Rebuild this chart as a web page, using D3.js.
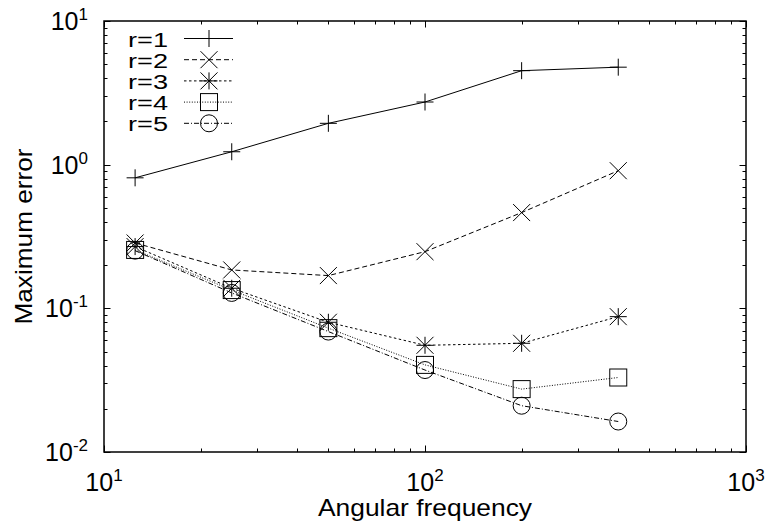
<!DOCTYPE html>
<html>
<head>
<meta charset="utf-8">
<script src="https://cdn.jsdelivr.net/npm/d3@7/dist/d3.min.js"></script>
<style>
  html, body { margin: 0; padding: 0; background: #fff; }
  svg { display: block; font-family: "Liberation Sans", Arial, Helvetica, sans-serif; }
</style>
</head>
<body>
<svg id="chart" width="767" height="524"></svg>
<script>
// ---- data ----
const freqs = [12.5, 25, 50, 100, 200, 400];
const r1 = [0.81, 1.23, 1.94, 2.73, 4.51, 4.77];
const r2 = [0.285, 0.185, 0.169, 0.248, 0.464, 0.908];
const r3 = [0.269, 0.138, 0.080, 0.0553, 0.0571, 0.0875];
const r4 = [0.255, 0.134, 0.0728, 0.0404, 0.0274, 0.033];
const r5 = [0.252, 0.128, 0.0689, 0.0372, 0.0210, 0.0163];
const seriesNames = ["r=1", "r=2", "r=3", "r=4", "r=5"];
const xTickExps = [1, 2, 3];
const yTickExps = [-2, -1, 0, 1];
const xTitle = "Angular frequency";
const yTitle = "Maximum error";

// ---- styles ----
const seriesValues = [r1, r2, r3, r4, r5];
const markers = ["plus", "cross", "star", "square", "circle"];
const dashes = [null, "5,3", "2.5,2.5", "1,1.6", "5,2,1,2"];

const svg = d3.select("#chart");
const L = 104, R = 746, T = 21, B = 452;
const x = d3.scaleLog().domain([10, 1000]).range([L, R]);
const y = d3.scaleLog().domain([0.01, 10]).range([B, T]);

// ticks (inward, mirrored)
const tickG = svg.append("g").attr("stroke", "#000").attr("stroke-width", 1);
const major = 6.5, minor = 3.5;
function decadeTicks(lo, hi) {
  const out = [];
  for (let e = lo; e < hi; e++) {
    for (let m = 1; m < 10; m++) out.push({v: m * Math.pow(10, e), major: m === 1});
  }
  out.push({v: Math.pow(10, hi), major: true});
  return out;
}
decadeTicks(1, 3).forEach(t => {
  const px = Math.round(x(t.v)) + 0.5, len = t.major ? major : minor;
  tickG.append("line").attr("x1", px).attr("x2", px).attr("y1", B).attr("y2", B - len);
  tickG.append("line").attr("x1", px).attr("x2", px).attr("y1", T).attr("y2", T + len);
});
decadeTicks(-2, 1).forEach(t => {
  const py = Math.round(y(t.v)) + 0.5, len = t.major ? major : minor;
  tickG.append("line").attr("y1", py).attr("y2", py).attr("x1", L).attr("x2", L + len);
  tickG.append("line").attr("y1", py).attr("y2", py).attr("x1", R).attr("x2", R - len);
});

// border
svg.append("rect").attr("x", L).attr("y", T).attr("width", R - L).attr("height", B - T)
  .attr("fill", "none").attr("stroke", "#000").attr("stroke-width", 1.5);

// tick labels
xTickExps.forEach(e => {
  const t = svg.append("text").attr("x", x(Math.pow(10, e))).attr("y", 491)
    .attr("text-anchor", "middle").attr("font-size", 25).attr("fill", "#000");
  t.append("tspan").text("10");
  t.append("tspan").attr("font-size", 17).attr("dy", -10).text(String(e));
});
yTickExps.forEach(e => {
  const t = svg.append("text").attr("x", 88).attr("y", y(Math.pow(10, e)) + 9)
    .attr("text-anchor", "end").attr("font-size", 25).attr("fill", "#000");
  t.append("tspan").text("10");
  t.append("tspan").attr("font-size", 17).attr("dy", -10).text(String(e));
});

// axis titles
svg.append("text").attr("x", (L + R) / 2).attr("y", 516).attr("text-anchor", "middle")
  .attr("font-size", 24).attr("textLength", 214).attr("lengthAdjust", "spacingAndGlyphs")
  .text(xTitle);
svg.append("text").attr("transform", `translate(32,${(T + B) / 2}) rotate(-90)`)
  .attr("text-anchor", "middle").attr("font-size", 24)
  .attr("textLength", 176).attr("lengthAdjust", "spacingAndGlyphs")
  .text(yTitle);

// marker drawing
function drawMarker(g, type, cx, cy) {
  const s = 8.5;
  const st = {stroke: "#000", "stroke-width": 1, fill: "none"};
  const apply = sel => { Object.entries(st).forEach(([k, v]) => sel.attr(k, v)); return sel; };
  if (type === "plus" || type === "star") {
    apply(g.append("path").attr("d", `M${cx - s},${cy}H${cx + s}M${cx},${cy - s}V${cy + s}`));
  }
  if (type === "cross" || type === "star") {
    apply(g.append("path").attr("d", `M${cx - s},${cy - s}L${cx + s},${cy + s}M${cx - s},${cy + s}L${cx + s},${cy - s}`));
  }
  if (type === "square") {
    apply(g.append("rect").attr("x", cx - s).attr("y", cy - s).attr("width", 2 * s).attr("height", 2 * s));
  }
  if (type === "circle") {
    apply(g.append("circle").attr("cx", cx).attr("cy", cy).attr("r", s));
  }
}

// series
const line = d3.line().x(d => x(d[0])).y(d => y(d[1]));
seriesValues.forEach((vals, i) => {
  const pts = freqs.map((f, j) => [f, vals[j]]);
  const g = svg.append("g");
  g.append("path").attr("d", line(pts)).attr("fill", "none").attr("stroke", "#000")
    .attr("stroke-width", 1).attr("stroke-dasharray", dashes[i]);
  pts.forEach(p => drawMarker(g, markers[i], x(p[0]), y(p[1])));
});

// legend
seriesNames.forEach((name, i) => {
  const base = 46.5 + i * 21.2;
  const ly = base - 8;
  svg.append("text").attr("x", 168).attr("y", base).attr("text-anchor", "end")
    .attr("font-size", 20).attr("textLength", 40).attr("lengthAdjust", "spacingAndGlyphs").text(name);
  const g = svg.append("g");
  g.append("line").attr("x1", 184).attr("x2", 233).attr("y1", ly).attr("y2", ly)
    .attr("stroke", "#000").attr("stroke-width", 1).attr("stroke-dasharray", dashes[i]);
  drawMarker(g, markers[i], 209, ly);
});
</script>
</body>
</html>
